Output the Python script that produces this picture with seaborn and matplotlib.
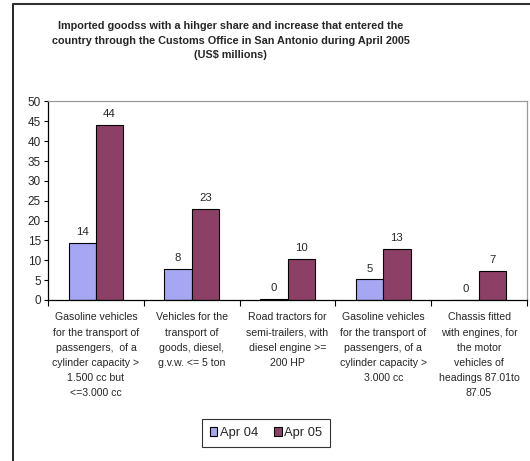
import matplotlib
matplotlib.use("Agg")
import matplotlib.pyplot as plt
import seaborn as sns
import pandas as pd
from matplotlib.lines import Line2D
from matplotlib.ticker import FixedLocator

categories = [
    "Gasoline vehicles\nfor the transport of\npassengers,  of a\ncylinder capacity >\n1.500 cc but\n<=3.000 cc",
    "Vehicles for the\ntransport of\ngoods, diesel,\ng.v.w. <= 5 ton",
    "Road tractors for\nsemi-trailers, with\ndiesel engine >=\n200 HP",
    "Gasoline vehicles\nfor the transport of\npassengers, of a\ncylinder capacity >\n3.000 cc",
    "Chassis fitted\nwith engines, for\nthe motor\nvehicles of\nheadings 87.01to\n87.05",
]
apr04 = [14.4, 7.8, 0.3, 5.2, 0.0]
apr05 = [44.2, 23.0, 10.4, 12.9, 7.3]
series = ["Apr 04", "Apr 05"]
colors = ["#9999FF", "#993366"]
yticks = [0, 5, 10, 15, 20, 25, 30, 35, 40, 45, 50]

sns.set_theme(style="white")
plt.rcParams["font.family"] = ["Liberation Sans", "DejaVu Sans"]

df = pd.DataFrame({
    "cat": list(range(len(categories))) * 2,
    "val": apr04 + apr05,
    "series": [series[0]] * len(categories) + [series[1]] * len(categories),
})

fig = plt.figure(figsize=(5.30, 4.61), dpi=100)
ax = fig.add_axes([48 / 530, 1 - 300 / 461, (527 - 48) / 530, (300 - 101.5) / 461])

sns.barplot(data=df, x="cat", y="val", hue="series", palette=colors,
            width=0.57, gap=0, edgecolor="black", linewidth=0.8,
            ax=ax, legend=True)

for cont in ax.containers:
    ax.bar_label(cont, fmt="%.0f", padding=4, fontsize=8.2)

ax.set_xlim(-0.5, len(categories) - 0.5)
ax.set_ylim(0, 50)
ax.set_yticks(yticks)
ax.set_yticklabels([str(v) for v in yticks], fontsize=8.5)
ax.set_xticks(range(len(categories)))
ax.set_xticklabels(categories, fontsize=7.6, linespacing=1.64, va="top")
ax.xaxis.set_minor_locator(FixedLocator([i - 0.5 for i in range(len(categories) + 1)]))
ax.tick_params(axis="x", which="major", length=0, pad=9)
ax.tick_params(axis="x", which="minor", length=4, width=0.8, color="black", direction="out", bottom=True)
ax.tick_params(axis="y", which="major", length=3, width=0.8, color="black", direction="out", left=True, pad=2)
ax.set_xlabel("")
ax.set_ylabel("")

for s in ["left", "bottom"]:
    ax.spines[s].set_color("black")
    ax.spines[s].set_linewidth(0.9)
for s in ["top", "right"]:
    ax.spines[s].set_visible(True)
    ax.spines[s].set_color("#999999")
    ax.spines[s].set_linewidth(0.9)

handles, labels = ax.get_legend_handles_labels()
ax.legend(handles, labels, loc="center", bbox_to_anchor=(266 / 530, 1 - 433 / 461),
          bbox_transform=fig.transFigure, ncol=2, frameon=True, fancybox=False,
          edgecolor="black", fontsize=9.3, handlelength=0.6, handleheight=0.6,
          handletextpad=0.2, columnspacing=1.2, borderpad=0.6)
ax.get_legend().get_frame().set_linewidth(0.8)

fig.text(230.5 / 530, 1 - 40.5 / 461,
         "Imported goodss with a hihger share and increase that entered the\n"
         "country through the Customs Office in San Antonio during April 2005\n"
         "(US$ millions)",
         ha="center", va="center", fontsize=7.8, fontweight="bold", linespacing=1.52)

fig.add_artist(Line2D([12.5 / 530, 12.5 / 530], [0, 1 - 4.5 / 461], transform=fig.transFigure,
                      color="black", linewidth=1.2))
fig.add_artist(Line2D([12.5 / 530, 1], [1 - 4.5 / 461, 1 - 4.5 / 461], transform=fig.transFigure,
                      color="#333333", linewidth=1.5))

fig.savefig("out.png", dpi=100)
